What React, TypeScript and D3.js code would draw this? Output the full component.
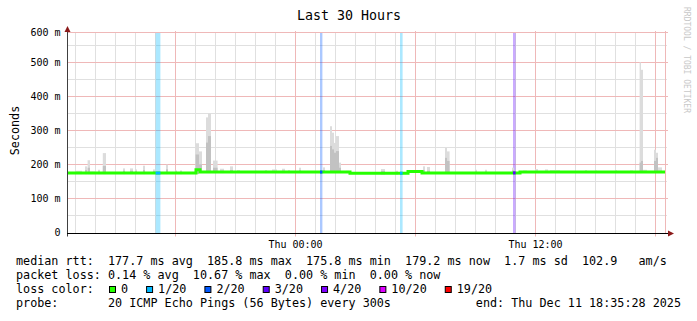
import React from "react";
import * as d3 from "d3";

const FONT = "'DejaVu Sans Mono', monospace";

const titleText = "Last 30 Hours";
const yAxisTitle = "Seconds";
const watermark = "RRDTOOL / TOBI OETIKER";

const startTime = new Date(2025, 11, 10, 12, 35, 28);
const endTime = new Date(2025, 11, 11, 18, 35, 28);
const yMax = 588.2;

const yGridMinor = [50, 150, 250, 350, 450, 550];
const yTickValues = [0, 100, 200, 300, 400, 500, 600];
const yTickLabels = ["0", "100 m", "200 m", "300 m", "400 m", "500 m", "600 m"];
const labelEveryHours = 12;
const majorEveryHours = 6;

// median RTT (ms) as steps: start hour (from graph start) and value
const medianStartH = [0, 6.45, 6.65, 14.15, 17.05, 17.75, 22.65];
const medianValue = [176.3, 185.8, 179.3, 175.8, 180.7, 176.8, 179.6];
const dataEndH = 29.9;

// loss events
const lossStartH = [4.43, 12.65, 16.65, 22.3];
const lossEndH = [4.67, 12.77, 16.78, 22.43];
const lossLevel = [1, 2, 1, 3];

const lossLabels = ["0", "1/20", "2/20", "3/20", "4/20", "10/20", "19/20"];
const lossColors = ["#26ff00", "#00b8ff", "#0059ff", "#5e00ff", "#7e00ff", "#dd00ff", "#ff0000"];

// smoke (ping spread) spikes
const spikeStartH = [0.40, 0.90, 1.03, 1.15, 1.55, 1.79, 2.80, 3.15, 3.40, 3.80, 4.30, 4.95, 5.40, 5.65, 6.43, 6.60, 6.95, 7.05, 7.30, 7.65, 8.15, 8.50, 9.40, 9.90, 10.25, 10.75, 11.05, 11.60, 12.80, 13.15, 13.25, 13.35, 13.45, 13.60, 13.95, 15.70, 16.40, 17.80, 18.00, 18.90, 19.00, 20.40, 20.90, 22.25, 22.80, 23.40, 23.90, 24.15, 25.90, 26.40, 27.40, 28.15, 28.63, 28.70, 28.80, 29.35, 29.45, 29.55];
const spikeEndH = [0.75, 1.00, 1.15, 1.40, 1.65, 1.95, 2.90, 3.30, 3.50, 3.90, 4.40, 5.05, 5.50, 5.75, 6.60, 6.75, 7.05, 7.20, 7.53, 7.85, 8.30, 8.65, 9.50, 10.00, 10.50, 10.90, 11.15, 11.70, 12.90, 13.25, 13.35, 13.45, 13.60, 13.70, 14.10, 15.90, 16.55, 17.90, 18.15, 19.00, 19.13, 20.50, 21.00, 22.35, 23.00, 23.55, 24.05, 24.65, 26.00, 26.50, 27.50, 28.30, 28.70, 28.80, 29.00, 29.45, 29.55, 29.75];
const spikeMax = [183, 196, 214, 181, 186, 235, 190, 190, 187, 198, 187, 201, 184, 184, 264, 240, 340, 352, 213, 189, 196, 185, 183, 185, 187, 189, 185, 192, 193, 314, 295, 265, 285, 207, 183, 188, 183, 196, 194, 250, 240, 186, 186, 192, 184, 188, 187, 185, 185, 184, 185, 184, 502, 480, 186, 245, 236, 193];
const spikeMid = [179, 185, 192, 179, 181, 197, 183, 183, 182, 185, 182, 187, 181, 181, 231, 202, 266, 285, 192, 183, 185, 181, 180, 181, 182, 183, 181, 184, 185, 256, 246, 236, 241, 192, 180, 182, 180, 185, 183, 221, 212, 181, 181, 184, 181, 182, 182, 181, 181, 181, 181, 181, 207, 212, 181, 212, 221, 183];

const legendLine1 = "median rtt:  177.7 ms avg  185.8 ms max  175.8 ms min  179.2 ms now  1.7 ms sd  102.9   am/s";
const legendLine2 = "packet loss: 0.14 % avg  10.67 % max  0.00 % min  0.00 % now";
const legendLine3 = "loss color:";
const legendLine4 = "probe:       20 ICMP Echo Pings (56 Bytes) every 300s";
const legendEnd = "end: Thu Dec 11 18:35:28 2025";

export default function App() {
  const left = 67, right = 667, top = 33, bottom = 233;
  const x = d3.scaleTime().domain([startTime, endTime]).range([left, right]);
  const y = d3.scaleLinear().domain([0, yMax]).range([bottom, top]).clamp(true);
  const hx = (h: number) => x(new Date(startTime.getTime() + h * 3600000));
  const medianAt = (h: number) => {
    let v = medianValue[0];
    medianStartH.forEach((s, i) => { if (h >= s) v = medianValue[i]; });
    return v;
  };
  const crisp = (v: number) => Math.round(v) + 0.5;
  const hours = d3.timeHour.range(startTime, endTime);
  const fmt = d3.timeFormat("%a %H:%M");

  const pts: [number, number][] = medianStartH.map((h, i) => [hx(h), y(medianValue[i])]);
  pts.push([hx(dataEndH), y(medianValue[medianValue.length - 1])]);
  const medianPath = d3.line().curve(d3.curveStepAfter)(pts) || "";

  const charW = 7.08;
  const fs = 11.75;
  const swatchX: number[] = [];
  let cx = 109.5;
  lossLabels.forEach((l) => {
    swatchX.push(cx);
    cx += 12 + l.length * charW + 18;
  });

  const minorCol = "#e0e0e0";
  const majorCol = "#efb8b8";

  return (
    <svg width={697} height={321} style={{ position: "absolute", left: 0, top: 0, background: "#fff" }}
      fontFamily={FONT}>
      <rect x={0} y={0} width={697} height={321} fill="#fff" />
      <text x={349} y={20} textAnchor="middle" fontSize={13.3} fill="#000">{titleText}</text>
      <text transform="translate(684,7) rotate(90)" fontSize={8} fill="#c8c8c8">{watermark}</text>
      <text transform="translate(18.5,130.5) rotate(-90)" textAnchor="middle" fontSize={fs} fill="#000">{yAxisTitle}</text>

      {/* minor grid */}
      {yGridMinor.map((v) => (
        <line key={"hm" + v} x1={left} x2={right} y1={crisp(y(v)) - 1} y2={crisp(y(v)) - 1} stroke={minorCol} />
      ))}
      {hours.filter((d) => d.getHours() % majorEveryHours !== 0).map((d) => (
        <line key={"vm" + d.getTime()} x1={crisp(x(d))} x2={crisp(x(d))} y1={top} y2={bottom} stroke={minorCol} />
      ))}
      {/* major grid */}
      {yTickValues.filter((v) => v > 0).map((v) => (
        <line key={"hM" + v} x1={left} x2={right + 1} y1={crisp(y(v)) - 1} y2={crisp(y(v)) - 1} stroke={majorCol} />
      ))}
      {hours.filter((d) => d.getHours() % majorEveryHours === 0).map((d) => (
        <line key={"vM" + d.getTime()} x1={crisp(x(d))} x2={crisp(x(d))} y1={top - 2} y2={bottom + 3.5} stroke={majorCol} />
      ))}
      <line x1={crisp(x(endTime)) - 2} x2={crisp(x(endTime)) - 2} y1={top - 2} y2={bottom} stroke={majorCol} />

      {/* loss bars */}
      {lossStartH.map((s, i) => (
        <rect key={"lb" + i} x={hx(s)} y={top} width={hx(lossEndH[i]) - hx(s)} height={bottom - top}
          fill={lossColors[lossLevel[i]]} fillOpacity={0.33} />
      ))}

      {/* smoke */}
      {spikeStartH.map((s, i) => {
        const x0 = hx(s), x1 = hx(spikeEndH[i]);
        const base = y(medianAt(s)) + 1;
        return (
          <g key={"sp" + i}>
            <rect x={x0} y={y(spikeMax[i])} width={x1 - x0} height={Math.max(0, base - y(spikeMax[i]))} fill="#dcdcdc" />
            <rect x={x0} y={y(spikeMid[i])} width={x1 - x0} height={Math.max(0, base - y(spikeMid[i]))} fill="#c2c2c2" />
          </g>
        );
      })}

      {/* median line */}
      <path d={medianPath} fill="none" stroke={lossColors[0]} strokeWidth={3} />
      {lossStartH.map((s, i) => (
        <line key={"ll" + i} x1={hx(s)} x2={hx(lossEndH[i])} y1={y(medianAt(s))} y2={y(medianAt(s))}
          stroke={lossColors[lossLevel[i]]} strokeWidth={3} />
      ))}

      {/* axes */}
      <line x1={left + 0.5} x2={left + 0.5} y1={top - 4} y2={bottom + 3.5} stroke="#404040" />
      <line x1={left} x2={right + 2} y1={bottom + 0.5} y2={bottom + 0.5} stroke="#000" />
      <path d={`M${left + 0.5},${top - 7} L${left - 2.5},${top - 1} L${left + 3.5},${top - 1} Z`} fill="#8b1a1a" />
      <path d={`M${right + 7},${bottom + 0.5} L${right + 1},${bottom - 2.5} L${right + 1},${bottom + 3.5} Z`} fill="#8b1a1a" />

      {yTickValues.map((v, i) => (
        <text key={"yl" + v} x={60.5} y={crisp(y(v)) - 1 + 3.7} textAnchor="end" fontSize={10} fill="#000">{yTickLabels[i]}</text>
      ))}
      {hours.filter((d) => d.getHours() % labelEveryHours === 0).map((d) => (
        <text key={"xl" + d.getTime()} x={crisp(x(d))} y={248} textAnchor="middle" fontSize={10} fill="#000">{fmt(d)}</text>
      ))}

      {/* legend */}
      <g fontSize={fs} fill="#000" style={{ whiteSpace: "pre" }}>
        <text x={16} y={265} xmlSpace="preserve">{legendLine1}</text>
        <text x={16} y={279} xmlSpace="preserve">{legendLine2}</text>
        <text x={16} y={293} xmlSpace="preserve">{legendLine3}</text>
        {lossLabels.map((l, i) => (
          <g key={"lg" + i}>
            <rect x={swatchX[i]} y={286.5} width={6} height={6} fill={lossColors[i]} stroke="#000" strokeWidth={1} />
            <text x={swatchX[i] + 11.5} y={293}>{l}</text>
          </g>
        ))}
        <text x={16} y={307} xmlSpace="preserve">{legendLine4}</text>
        <text x={681} y={307} textAnchor="end" xmlSpace="preserve">{legendEnd}</text>
      </g>
    </svg>
  );
}
